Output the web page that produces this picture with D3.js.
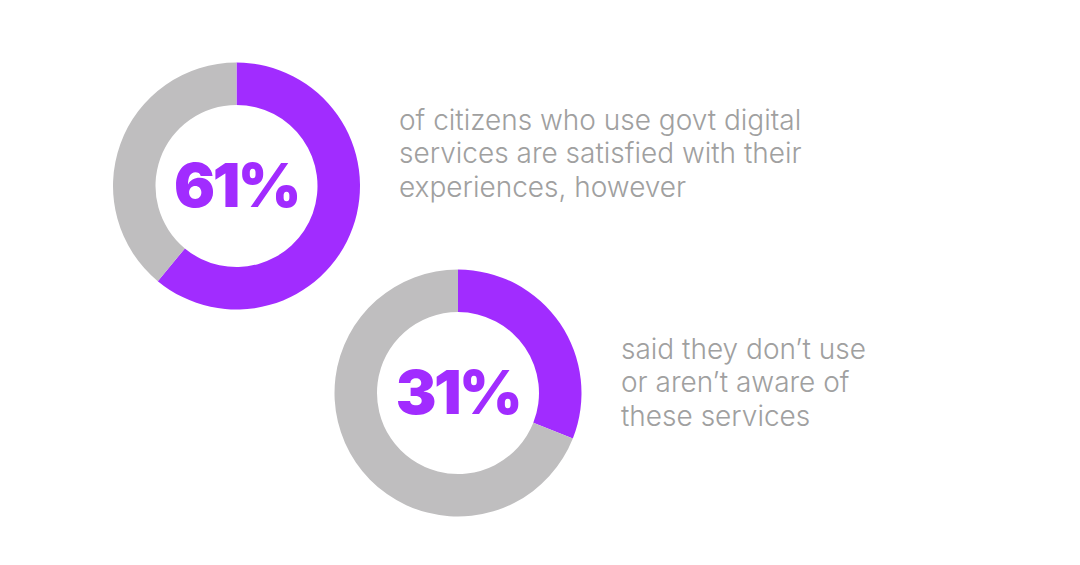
<!DOCTYPE html>
<html>
<head>
<meta charset="utf-8">
<script src="https://cdn.jsdelivr.net/npm/d3@7"></script>
<style>
  body { margin: 0; background: #ffffff; }
  svg { display: block; }
</style>
</head>
<body>
<script>
"use strict";

// data
const shares = [61, 31];
const bigLabels = ["61%", "31%"];
const captions = [
    ["of citizens who use govt digital", "services are satisfied with their", "experiences, however"],
    ["said they don\u2019t use", "or aren\u2019t aware of", "these services"]
];

const width = 1080, height = 565;
const purple = "#a12cff", grey = "#bfbebf", textGrey = "#a0a0a0";

// layout of the two donuts and their captions
const layout = [
    { cx: 236.5, cy: 186, tx: 399, ty: 130 },
    { cx: 458, cy: 393, tx: 621, ty: 359 }
];
const outerR = 123.5, innerR = 81;

const svg = d3.select("body").append("svg")
    .attr("width", width)
    .attr("height", height);

const pie = d3.pie().sort(null).value(d => d);
const arc = d3.arc().innerRadius(innerR).outerRadius(outerR);
const color = d3.scaleOrdinal().domain([0, 1]).range([purple, grey]);

shares.forEach(function(share, i) {
    let pos = layout[i];
    let g = svg.append("g")
        .attr("transform", "translate(" + pos.cx + "," + pos.cy + ")");

    g.selectAll("path")
        .data(pie([share, 100 - share]))
        .enter()
        .append("path")
        .attr("d", arc)
        .style("fill", (d, j) => color(j));

    g.append("text")
        .attr("x", 0)
        .attr("y", 21)
        .attr("text-anchor", "middle")
        .style("font-family", "Inter, 'Open Sans', sans-serif")
        .style("font-weight", 900)
        .style("font-size", "61px")
        .style("letter-spacing", "-2.5px")
        .style("fill", purple)
        .text(bigLabels[i]);

    // caption lines
    let cap = svg.append("g");
    cap.selectAll("text")
        .data(captions[i])
        .enter()
        .append("text")
        .attr("x", pos.tx)
        .attr("y", (d, j) => pos.ty + j * 33.3)
        .style("font-family", "Inter, 'Open Sans', sans-serif")
        .style("font-weight", 300)
        .style("font-size", "28px")
        .style("fill", textGrey)
        .text(d => d);
});
</script>
</body>
</html>
